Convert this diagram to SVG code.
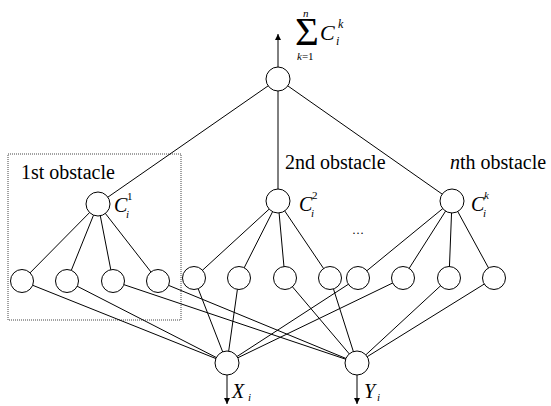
<svg xmlns="http://www.w3.org/2000/svg" width="551" height="406" viewBox="0 0 551 406">
<defs>
<style>
.e{stroke:#000;stroke-width:1;fill:none}
.n{stroke:#000;stroke-width:1;fill:#fff}
.t{font-family:"Liberation Serif","Times New Roman","DejaVu Serif",serif;fill:#000}
.i{font-style:italic}
</style>
<marker id="ah" viewBox="0 0 8 8" refX="8" refY="4" markerWidth="6" markerHeight="6" orient="auto" markerUnits="userSpaceOnUse">
<path d="M0,0 L8,4 L0,8 z" fill="#000"/>
</marker>
</defs>
<rect x="8" y="154" width="173" height="166" fill="none" stroke="#444" stroke-width="1" stroke-dasharray="1,1"/>
<g id="connectors">
<line class="e" x1="278" y1="67" x2="278" y2="34" marker-end="url(#ah)"/>
<line class="e" x1="227" y1="375" x2="227" y2="404" marker-end="url(#ah)"/>
<line class="e" x1="357" y1="375" x2="357" y2="404" marker-end="url(#ah)"/>
<line class="e" x1="278" y1="79" x2="98" y2="204"/>
<line class="e" x1="278" y1="79" x2="278" y2="201"/>
<line class="e" x1="278" y1="79" x2="452" y2="201"/>
<line class="e" x1="98" y1="204" x2="22" y2="281"/>
<line class="e" x1="98" y1="204" x2="67" y2="281"/>
<line class="e" x1="98" y1="204" x2="113" y2="281"/>
<line class="e" x1="98" y1="204" x2="158" y2="281"/>
<line class="e" x1="278" y1="201" x2="194" y2="278"/>
<line class="e" x1="278" y1="201" x2="239" y2="278"/>
<line class="e" x1="278" y1="201" x2="285" y2="278"/>
<line class="e" x1="278" y1="201" x2="330" y2="278"/>
<line class="e" x1="452" y1="201" x2="358" y2="278"/>
<line class="e" x1="452" y1="201" x2="403" y2="278"/>
<line class="e" x1="452" y1="201" x2="449" y2="278"/>
<line class="e" x1="452" y1="201" x2="494" y2="278"/>
<line class="e" x1="22" y1="281" x2="227" y2="363"/>
<line class="e" x1="67" y1="281" x2="227" y2="363"/>
<line class="e" x1="113" y1="281" x2="357" y2="363"/>
<line class="e" x1="158" y1="281" x2="357" y2="363"/>
<line class="e" x1="194" y1="278" x2="227" y2="363"/>
<line class="e" x1="239" y1="278" x2="227" y2="363"/>
<line class="e" x1="285" y1="278" x2="357" y2="363"/>
<line class="e" x1="330" y1="278" x2="357" y2="363"/>
<line class="e" x1="358" y1="278" x2="227" y2="363"/>
<line class="e" x1="403" y1="278" x2="227" y2="363"/>
<line class="e" x1="449" y1="278" x2="357" y2="363"/>
<line class="e" x1="494" y1="278" x2="357" y2="363"/>
</g>
<g id="top"><circle class="n" cx="278" cy="79" r="12"/></g>
<g id="c1"><circle class="n" cx="98" cy="204" r="12"/></g>
<g id="c2"><circle class="n" cx="278" cy="201" r="12"/></g>
<g id="ck"><circle class="n" cx="452" cy="201" r="12"/></g>
<g id="l1"><circle class="n" cx="22" cy="281" r="11.5"/></g>
<g id="l2"><circle class="n" cx="67" cy="281" r="11.5"/></g>
<g id="l3"><circle class="n" cx="113" cy="281" r="11.5"/></g>
<g id="l4"><circle class="n" cx="158" cy="281" r="11.5"/></g>
<g id="l5"><circle class="n" cx="194" cy="278" r="11.5"/></g>
<g id="l6"><circle class="n" cx="239" cy="278" r="11.5"/></g>
<g id="l7"><circle class="n" cx="285" cy="278" r="11.5"/></g>
<g id="l8"><circle class="n" cx="330" cy="278" r="11.5"/></g>
<g id="l9"><circle class="n" cx="358" cy="278" r="11.5"/></g>
<g id="l10"><circle class="n" cx="403" cy="278" r="11.5"/></g>
<g id="l11"><circle class="n" cx="449" cy="278" r="11.5"/></g>
<g id="l12"><circle class="n" cx="494" cy="278" r="11.5"/></g>
<g id="x"><circle class="n" cx="227" cy="363" r="12"/></g>
<g id="y"><circle class="n" cx="357" cy="363" r="12"/></g>
<g id="labels" font-family="'Liberation Serif', 'Times New Roman', serif">
<text class="t" x="295" y="45" font-size="41">Σ</text>
<text class="t i" x="303" y="17" font-size="11">n</text>
<text class="t" x="297" y="60" font-size="11"><tspan class="i">k</tspan>=1</text>
<text class="t i" x="320" y="40" font-size="22">C</text>
<text class="t i" x="338" y="28" font-size="12">k</text>
<text class="t i" x="336" y="45" font-size="12">i</text>
<text class="t" x="21" y="179" font-size="20">1st obstacle</text>
<text class="t" x="285" y="169" font-size="20">2nd obstacle</text>
<text class="t" x="450" y="169" font-size="20"><tspan class="i">n</tspan>th obstacle</text>
<text class="t i" x="114" y="212" font-size="20">C</text>
<text class="t" x="127" y="200" font-size="11">1</text>
<text class="t i" x="126" y="218" font-size="11">i</text>
<text class="t i" x="299" y="211" font-size="20">C</text>
<text class="t" x="312" y="199" font-size="11">2</text>
<text class="t i" x="311" y="217" font-size="11">i</text>
<text class="t i" x="471" y="211" font-size="20">C</text>
<text class="t i" x="484" y="199" font-size="11">k</text>
<text class="t i" x="483" y="217" font-size="11">i</text>
<text class="t" x="352" y="234" font-size="12">…</text>
<text class="t i" x="232" y="398" font-size="20">X</text>
<text class="t i" x="248" y="401" font-size="11">i</text>
<text class="t i" x="364" y="398" font-size="20">Y</text>
<text class="t i" x="377" y="401" font-size="11">i</text>
</g>
</svg>
